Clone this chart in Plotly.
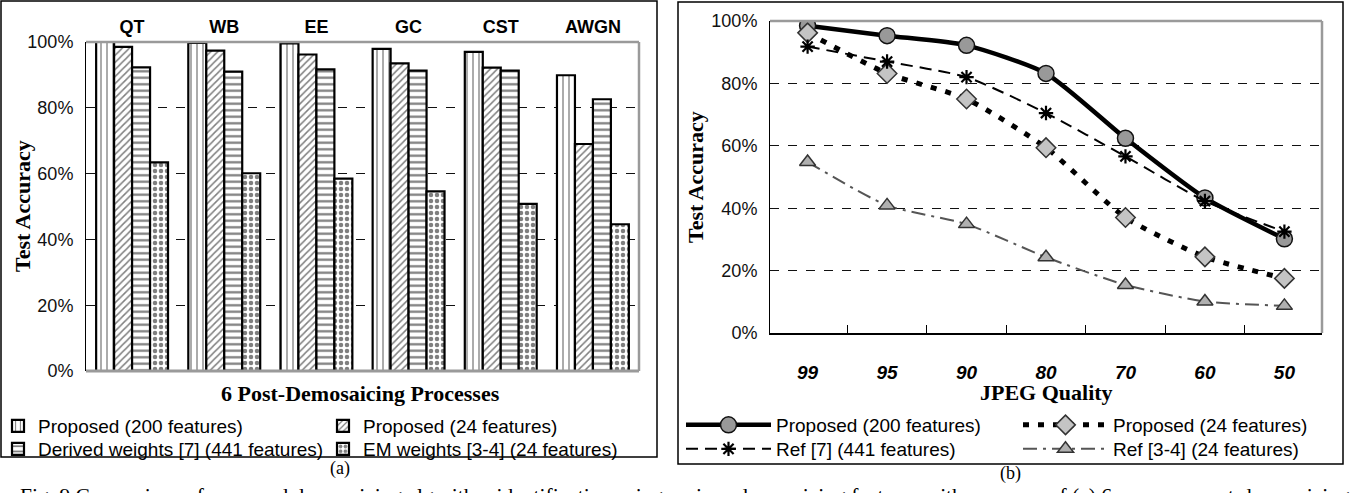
import plotly.graph_objects as go

# ---- data -------------------------------------------------------------
processes = ["QT", "WB", "EE", "GC", "CST", "AWGN"]
proposed_200 = [100.0, 99.7, 99.6, 97.9, 97.0, 89.9]
proposed_24 = [98.5, 97.4, 96.2, 93.5, 92.2, 69.0]
derived_441 = [92.3, 91.0, 91.7, 91.3, 91.3, 82.6]
em_24 = [63.4, 60.1, 58.5, 54.6, 50.8, 44.6]

jpeg_quality = ["99", "95", "90", "80", "70", "60", "50"]
jpeg_prop_200 = [98.5, 95.3, 92.2, 83.2, 62.4, 43.3, 30.2]
jpeg_prop_24 = [96.2, 83.2, 75.0, 59.4, 37.0, 24.4, 17.5]
jpeg_ref7 = [91.8, 87.0, 82.0, 70.5, 56.6, 42.3, 32.5]
jpeg_ref34 = [54.8, 40.9, 34.9, 24.3, 15.4, 10.1, 8.7]

yticks = [0, 20, 40, 60, 80, 100]
yticklabels = ["0%", "20%", "40%", "60%", "80%", "100%"]

# ---- page geometry (pixels) -------------------------------------------
W, H = 1351, 493


def fx(px):
    return px / W


def fy(py):
    return 1 - py / H


SANS = "Liberation Sans, Arial, sans-serif"
SERIF = "Liberation Serif, Times New Roman, serif"

fig = go.Figure()

# ---- (a) grouped bars ---------------------------------------------------
# each legend row holds two entries side by side
bar_specs = [
    ("Proposed (200 features)", proposed_200, "|", 6, 0.22, "legend"),
    ("Proposed (24 features)", proposed_24, "/", 5, 0.3, "legend"),
    ("Derived weights [7] (441 features)", derived_441, "-", 6.5, 0.35, "legend2"),
    ("EM weights [3-4] (24 features)", em_24, ".", 6, 0.45, "legend2"),
]
for name, vals, shape, size, solid, leg in bar_specs:
    fig.add_trace(go.Bar(
        x=processes, y=vals, name=name,
        xaxis="x", yaxis="y", legend=leg,
        marker=dict(
            color="white",
            line=dict(color="black", width=2.2),
            pattern=dict(shape=shape, size=size, solidity=solid,
                         fgcolor="black", bgcolor="white", fillmode="overlay"),
        ),
    ))

# ---- (b) JPEG quality lines --------------------------------------------
line_specs = [
    ("Proposed (200 features)", jpeg_prop_200,
     dict(color="black", width=4.5, dash="solid", shape="spline", smoothing=0.6),
     dict(symbol="circle", size=16, color="#999999",
          line=dict(color="#111111", width=1.5)), "legend3"),
    ("Proposed (24 features)", jpeg_prop_24,
     dict(color="black", width=5, dash="6px,9px", shape="spline", smoothing=0.6),
     dict(symbol="diamond", size=15, color="#c4c4c4",
          line=dict(color="#333333", width=1.5)), "legend3"),
    ("Ref [7] (441 features)", jpeg_ref7,
     dict(color="black", width=2, dash="12px,7px", shape="spline", smoothing=0.6),
     dict(symbol="asterisk-open", size=12, color="black",
          line=dict(color="black", width=2.2)), "legend4"),
    ("Ref [3-4] (24 features)", jpeg_ref34,
     dict(color="#555555", width=2, dash="14px,6px,3px,6px", shape="spline", smoothing=0.6),
     dict(symbol="triangle-up", size=14, color="#b0b0b0",
          line=dict(color="#333333", width=1.5)), "legend4"),
]
for name, vals, ln, mk, leg in line_specs:
    fig.add_trace(go.Scatter(
        x=jpeg_quality, y=vals, name=name, mode="lines+markers",
        xaxis="x2", yaxis="y2", legend=leg, line=ln, marker=mk,
    ))

# ---- axes ---------------------------------------------------------------
common_y = dict(
    range=[0, 100], tickvals=yticks, ticktext=yticklabels,
    tickfont=dict(family=SANS, size=18, color="#111111"),
    showgrid=True, gridcolor="#111111", gridwidth=1, griddash="dash",
    zeroline=False, showline=True, linecolor="black", linewidth=1,
    ticks="", ticklabelstandoff=8, fixedrange=True,
)
fig.update_layout(
    xaxis=dict(domain=[fx(86), fx(639)], anchor="y", side="top",
               showline=False, ticks="", showgrid=False,
               tickfont=dict(family=SANS, size=18, weight="bold", color="black"),
               ticklabelstandoff=4),
    yaxis=dict(domain=[fy(371), fy(42)], anchor="x", **common_y),
    xaxis2=dict(domain=[fx(770), fx(1322)], anchor="y2", showgrid=False,
                showline=True, linecolor="black", linewidth=1.5,
                ticks="inside", tickson="boundaries", ticklen=8,
                tickcolor="black", tickwidth=1,
                tickfont=dict(family=SANS, size=19, weight="bold",
                              style="italic", color="black"),
                ticklabelstandoff=21),
    yaxis2=dict(domain=[fy(333), fy(21)], anchor="x2", **common_y),
)

# ---- frames -------------------------------------------------------------
shapes = [
    # outer panel boxes
    dict(type="rect", xref="paper", yref="paper",
         x0=fx(1), x1=fx(657), y0=fy(457), y1=fy(1),
         line=dict(color="black", width=1.5)),
    dict(type="rect", xref="paper", yref="paper",
         x0=fx(678), x1=fx(1343), y0=fy(464), y1=fy(2),
         line=dict(color="black", width=1.5)),
]
for xr, yr in (("x", "y"), ("x2", "y2")):
    # top and right border of each plot area
    shapes.append(dict(type="line", xref=f"{xr} domain", yref=f"{yr} domain",
                       x0=0, x1=1, y0=1, y1=1, line=dict(color="#9a9a9a", width=2.5)))
    shapes.append(dict(type="line", xref=f"{xr} domain", yref=f"{yr} domain",
                       x0=1, x1=1, y0=0, y1=1, line=dict(color="#9a9a9a", width=2.5)))
shapes.append(dict(type="line", xref="x domain", yref="y domain",
                   x0=0, x1=1, y0=0, y1=0, line=dict(color="#9a9a9a", width=3)))

# ---- text ---------------------------------------------------------------
def note(text, x, y, size, angle=0, xanchor="center", yanchor="middle"):
    return dict(text=text, xref="paper", yref="paper", x=fx(x), y=fy(y),
                xanchor=xanchor, yanchor=yanchor, textangle=angle, showarrow=False,
                font=dict(family=SERIF, size=size, color="black"))


annotations = [
    note("<b>Test Accuracy</b>", 22, 206, 22, angle=-90),
    note("<b>6 Post-Demosaicing Processes</b>", 360, 393, 22),
    note("<b>Test Accuracy</b>", 695, 177, 22, angle=-90),
    note("<b>JPEG Quality</b>", 1046, 392, 22),
    note("(a)", 340, 468, 18),
    note("(b)", 1010, 473, 18),
    note("Fig. 9 Comparison of proposed demosaicing algorithm identification using various "
         "demosaicing features with presence of (a) 6 common post-demosaicing",
         18, 482, 21.5, xanchor="left", yanchor="top"),
]

legend_common = dict(
    orientation="h", bgcolor="rgba(0,0,0,0)", borderwidth=0,
    font=dict(family=SANS, size=19, color="black"),
    traceorder="normal", xanchor="left", yanchor="top",
    entrywidthmode="pixels",
)

fig.update_layout(
    width=W, height=H,
    margin=dict(l=0, r=0, t=0, b=0, autoexpand=False),
    paper_bgcolor="white", plot_bgcolor="white",
    barmode="group", bargap=0.22, bargroupgap=0,
    shapes=shapes, annotations=annotations,
    legend=dict(x=fx(-2), y=fy(407), itemwidth=30, entrywidth=280, **legend_common),
    legend2=dict(x=fx(-2), y=fy(430), itemwidth=30, entrywidth=280, **legend_common),
    legend3=dict(x=fx(681), y=fy(406), itemwidth=85, entrywidth=237, **legend_common),
    legend4=dict(x=fx(681), y=fy(430), itemwidth=85, entrywidth=237, **legend_common),
)

fig.write_html("out.html")
